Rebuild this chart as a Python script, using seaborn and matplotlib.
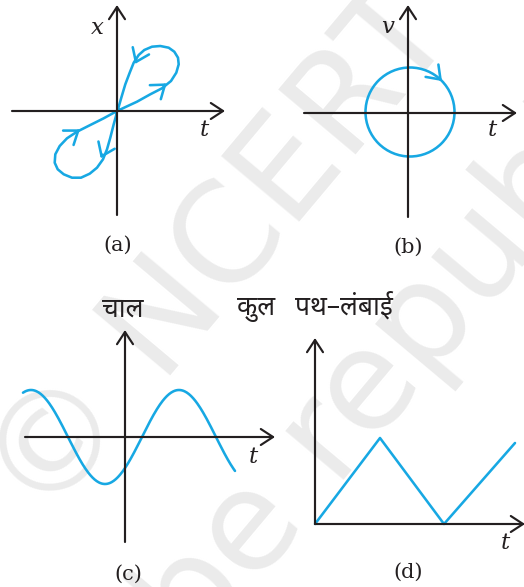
import numpy as np
import pandas as pd
import matplotlib
matplotlib.use("Agg")
import matplotlib.pyplot as plt
import seaborn as sns
from matplotlib import font_manager
from matplotlib.patches import Circle

# ---- data -------------------------------------------------------------
# (a) x–t: two closed loops through the origin (t, x)
loop_upper_t = [0, 20, 33.3, 45, 54, 59.3, 61.7, 61, 57.3, 51.7, 43.3, 35, 27.3,
                21.7, 16.7, 12.7, 8.3, 4.3, 1, 0]
loop_upper_x = [0, 9.3, 16.7, 22.7, 30, 38.3, 46.7, 53.3, 59.3, 63.3, 65, 64.3, 61,
                56, 48.3, 38.3, 26.7, 13.3, 1.7, 0]
loop_lower_t = [0, -13.3, -26.7, -40, -50, -57.3, -61.7, -62.3, -59.3, -53.3, -45,
                -36, -27.3, -20, -14, -10, -6.7, -3.3, -1, 0]
loop_lower_x = [0, -7.3, -14, -20.7, -27.3, -35, -43.3, -51.7, -58.3, -63.3, -66.7,
                -66.7, -62.7, -56.7, -48.3, -38.3, -26.7, -13.3, -5, 0]

# (b) v–t: a circle
circle_center = (2, 1)
circle_radius = 44.5

# (c) speed–t: a sinusoid
speed_amplitude = 47
speed_period = 148
speed_peak_t = -94
speed_t_range = (-102, 110)

# (d) total path length–t: zig-zag
path_t = [0, 65, 129, 200]
path_len = [0, 86, 0, 81]

panel_tags = ["(a)", "(b)", "(c)", "(d)"]

# ---- style ------------------------------------------------------------
sns.set_theme(style="white")
INK = "#231f20"
BLUE = "#17a8e3"
W, H = 524, 587
CURVE_LW = 1.85

names = {f.name for f in font_manager.fontManager.ttflist}
DEV = next((c for c in ["Noto Sans Devanagari", "Mukta", "Ek Mukta", "Hind",
                        "Lohit Devanagari", "Akshar", "FreeSans"] if c in names), "DejaVu Sans")
plt.rcParams["font.family"] = ["DejaVu Serif"]

fig = plt.figure(figsize=(W / 100, H / 100), dpi=100)


def panel(ox, oy):
    """Axes spanning the figure, one data unit per pixel, origin at (ox, oy)."""
    ax = fig.add_axes([0, 0, 1, 1])
    ax.patch.set_alpha(0)
    return ax


def frame(ax, ox, oy):
    ax.set_xlim(-ox, W - ox)
    ax.set_ylim(oy - H, oy)
    ax.axis("off")


def axis_arrow(ax, start, end):
    ax.annotate("", xy=end, xytext=start, annotation_clip=False,
                arrowprops=dict(arrowstyle="->,head_length=0.55,head_width=0.36",
                                color=INK, lw=1.55, shrinkA=0, shrinkB=0,
                                mutation_scale=16))


def curve_arrow(ax, apex, angle_deg):
    a = np.deg2rad(angle_deg)
    tail = (apex[0] - 4 * np.cos(a), apex[1] - 4 * np.sin(a))
    ax.annotate("", xy=apex, xytext=tail, annotation_clip=False,
                arrowprops=dict(arrowstyle="->,head_length=0.55,head_width=0.4",
                                color=BLUE, lw=CURVE_LW, shrinkA=0, shrinkB=0,
                                mutation_scale=16))


def italic(ax, x, y, s):
    ax.text(x, y, s, fontsize=16.5, style="italic", family="DejaVu Serif",
            color=INK, ha="center", va="center")


def tag(ax, x, y, s):
    ax.text(x, y, s, fontsize=15, family="DejaVu Serif", color=INK,
            ha="center", va="center")


def hindi(ax, x, y, s):
    ax.text(x, y, s, fontsize=19, family=[DEV, "DejaVu Sans"], color=INK,
            ha="center", va="center")


# watermark behind everything
wm = fig.add_axes([0, 0, 1, 1])
wm.set_xlim(0, W)
wm.set_ylim(H, 0)
wm.axis("off")
WM_GREY = "#ebebeb"
wm.text(222, 255, "© NCERT", fontsize=100, rotation=50, color=WM_GREY,
        ha="center", va="center", family="DejaVu Sans", rotation_mode="anchor")
wm.text(352, 410, "not to be republished", fontsize=100, rotation=50,
        color=WM_GREY, ha="center", va="center", family="DejaVu Sans",
        rotation_mode="anchor")

# ---- (a) --------------------------------------------------------------
ox, oy = 117, 111
ax = panel(ox, oy)
df_up = pd.DataFrame({"t": loop_upper_t, "x": loop_upper_x})
df_lo = pd.DataFrame({"t": loop_lower_t, "x": loop_lower_x})
for df in (df_up, df_lo):
    sns.lineplot(data=df, x="t", y="x", sort=False, estimator=None, ax=ax,
                 color=BLUE, lw=CURVE_LW, solid_joinstyle="round",
                 solid_capstyle="round", legend=False)
frame(ax, ox, oy)
axis_arrow(ax, (-105, 0), (108, 0))
axis_arrow(ax, (0, -104), (0, 106))
curve_arrow(ax, (49.7, 27.7), 38)
curve_arrow(ax, (18, 47), 246)
curve_arrow(ax, (-37, -18.3), 36)
curve_arrow(ax, (-16.3, -47.3), 246)
italic(ax, -20, 83, "x")
italic(ax, 87, -19, "t")
tag(ax, 1, -134, panel_tags[0])

# ---- (b) --------------------------------------------------------------
ox, oy = 408, 113
ax = panel(ox, oy)
frame(ax, ox, oy)
ax.add_patch(Circle(circle_center, circle_radius, fill=False, ec=BLUE, lw=CURVE_LW))
axis_arrow(ax, (-104, 0), (109, 0))
axis_arrow(ax, (0, -104), (0, 108))
ang = np.deg2rad(44)
curve_arrow(ax, (circle_center[0] + circle_radius * np.cos(ang),
                 circle_center[1] + circle_radius * np.sin(ang)), 44 - 90)
italic(ax, -20, 86, "v")
italic(ax, 84, -17, "t")
tag(ax, 0, -134, panel_tags[1])

# ---- (c) --------------------------------------------------------------
ox, oy = 125, 437
ax = panel(ox, oy)
t_c = np.linspace(*speed_t_range, 300)
df_c = pd.DataFrame({"t": t_c,
                     "speed": speed_amplitude * np.cos(2 * np.pi * (t_c - speed_peak_t) / speed_period)})
sns.lineplot(data=df_c, x="t", y="speed", ax=ax, color=BLUE, lw=CURVE_LW,
             estimator=None, legend=False)
frame(ax, ox, oy)
axis_arrow(ax, (-100, 0), (150, 0))
axis_arrow(ax, (0, -105), (0, 107))
hindi(ax, -2, 127, "चाल")
italic(ax, 128, -20, "t")
tag(ax, 3, -137, panel_tags[2])

# ---- (d) --------------------------------------------------------------
ox, oy = 315, 524
ax = panel(ox, oy)
df_d = pd.DataFrame({"t": path_t, "length": path_len})
sns.lineplot(data=df_d, x="t", y="length", ax=ax, color=BLUE, lw=CURVE_LW,
             estimator=None, sort=False, legend=False)
frame(ax, ox, oy)
axis_arrow(ax, (0, 0), (210, 0))
axis_arrow(ax, (0, 0), (0, 186))
hindi(ax, -58.5, 216, "कुल")
hindi(ax, 29, 217, "पथ–लंबाई")
italic(ax, 190, -19, "t")
tag(ax, 93, -48, panel_tags[3])

fig.savefig("out.png", dpi=100)
